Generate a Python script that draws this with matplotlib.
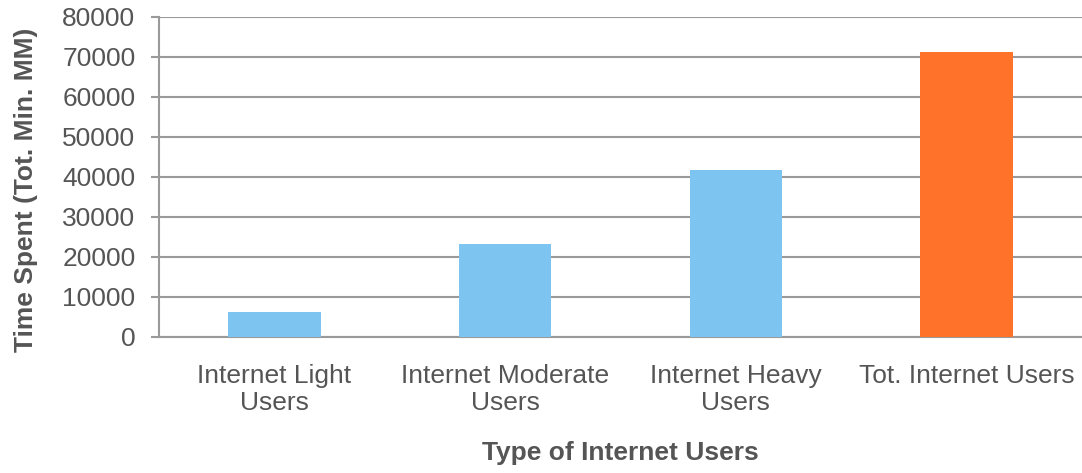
import matplotlib
matplotlib.use("Agg")
import matplotlib.pyplot as plt

categories = ["Internet Light\nUsers", "Internet Moderate\nUsers", "Internet Heavy\nUsers", "Tot. Internet Users"]
values = [6200, 23100, 41700, 71200]
colors = ["#7DC5F0", "#7DC5F0", "#7DC5F0", "#FF7229"]
yticks = [0, 10000, 20000, 30000, 40000, 50000, 60000, 70000, 80000]

plt.rcParams['font.family'] = ['Liberation Sans', 'DejaVu Sans']
FS = 19
TXT = "#555555"

fig = plt.figure(figsize=(10.82, 4.73), dpi=100)
ax = fig.add_axes([159/1082, 1 - 336.7/473, (1082 - 159)/1082, 320/473])

x = range(len(categories))
ax.bar(x, values, width=0.4, color=colors, zorder=3)
ax.set_xlim(-0.5, 3.5)
ax.set_ylim(0, 80000)
ax.set_yticks(yticks)
ax.set_yticklabels([str(v) for v in yticks])
ax.set_xticks(list(x))
ax.set_xticklabels(categories, linespacing=1.13)

grid_c = "#9A9A9A"
ax.yaxis.grid(True, color=grid_c, linewidth=1.5, zorder=0)
for s in ["top", "right"]:
    ax.spines[s].set_visible(False)
ax.spines["left"].set_color(grid_c)
ax.spines["left"].set_linewidth(1.5)
ax.spines["bottom"].set_color(grid_c)
ax.spines["bottom"].set_linewidth(1.5)

ax.tick_params(axis="y", length=6, width=1.5, color=grid_c, pad=11, labelsize=FS, labelcolor=TXT)
ax.tick_params(axis="x", length=0, pad=20, labelsize=FS, labelcolor=TXT)

ax.set_ylabel("Time Spent (Tot. Min. MM)", fontsize=FS, fontweight="bold", color=TXT)
ax.set_xlabel("Type of Internet Users", fontsize=FS, fontweight="bold", color=TXT)
ax.yaxis.set_label_coords((38 - 159)/923, (336.7 - 190)/320)
ax.xaxis.set_label_coords(0.5, -(460 - 336.7)/320)
ax.xaxis.label.set_va("baseline")

fig.savefig("out.png", dpi=100)
